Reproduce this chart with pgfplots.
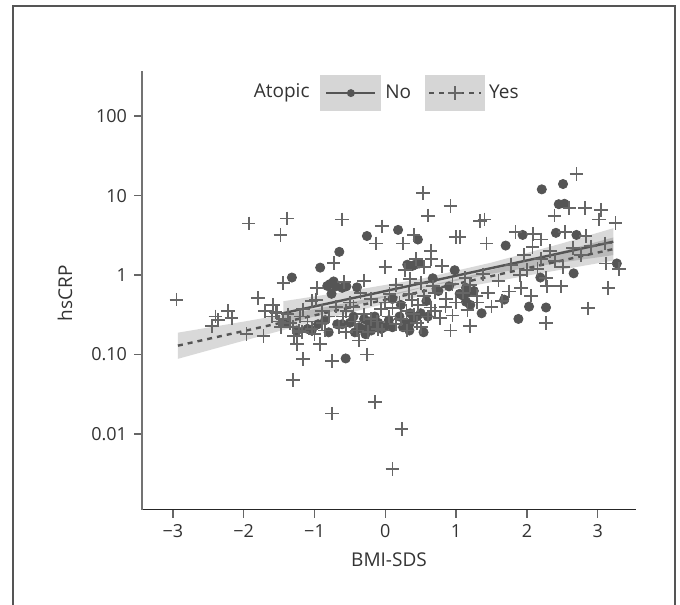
\documentclass[border=0pt]{standalone}
\usepackage{pgfplots}
\pgfplotsset{compat=1.18}
\usepackage{fontspec}
\setmainfont{Open Sans}
\definecolor{txt}{HTML}{333333}
\definecolor{framecol}{HTML}{555555}
\definecolor{dotcol}{HTML}{555555}
\definecolor{pluscol}{HTML}{666666}
\definecolor{linecol}{HTML}{555555}
\definecolor{legbg}{HTML}{D6D6D6}

\pgfplotstableread{
x y
-1.41 0.25
-1.32 0.93
-1.25 0.20
-1.10 0.21
-1.04 0.20
-0.95 0.24
-0.92 1.24
-0.85 0.27
-0.82 0.73
-0.80 0.19
-0.78 0.77
-0.76 0.58
-0.73 0.83
-0.70 0.72
-0.68 0.24
-0.65 1.96
-0.61 0.69
-0.61 0.24
-0.56 0.089
-0.55 0.72
-0.50 0.25
-0.45 0.30
-0.43 0.19
-0.40 0.70
-0.37 0.22
-0.33 0.21
-0.30 0.28
-0.28 0.18
-0.26 3.1
-0.24 0.26
-0.22 0.23
-0.20 0.20
-0.18 0.24
-0.15 0.30
-0.12 0.22
-0.10 0.25
-0.06 0.21
-0.02 0.22
0.05 0.27
0.10 0.22
0.10 0.50
0.18 3.7
0.20 0.30
0.22 0.42
0.25 0.22
0.28 0.25
0.31 1.35
0.34 0.24
0.34 0.20
0.35 0.33
0.38 1.30
0.40 0.28
0.42 1.35
0.45 0.30
0.46 2.8
0.48 1.40
0.50 0.33
0.54 0.19
0.58 0.47
0.60 0.30
0.67 0.91
0.75 0.63
0.90 0.72
0.98 1.15
1.05 0.58
1.10 0.55
1.14 0.46
1.14 0.69
1.15 0.59
1.20 0.42
1.25 0.63
1.36 0.33
1.68 0.49
1.70 2.35
1.88 0.28
1.94 3.2
2.03 0.40
2.19 0.93
2.21 12
2.27 0.39
2.41 3.4
2.45 7.8
2.51 14
2.53 7.9
2.66 1.05
2.70 3.2
3.27 1.4
}\nodata

\pgfplotstableread{
x y
-2.95 0.49
-2.45 0.23
-2.40 0.30
-2.36 0.27
-2.22 0.35
-2.17 0.29
-1.96 0.18
-1.93 4.46
-1.80 0.51
-1.72 0.17
-1.70 0.35
-1.60 0.30
-1.59 0.42
-1.55 0.34
-1.53 0.33
-1.50 0.26
-1.48 3.22
-1.47 0.22
-1.45 0.28
-1.44 0.79
-1.39 5.15
-1.38 0.32
-1.35 0.25
-1.30 0.048
-1.30 0.22
-1.29 0.17
-1.25 0.135
-1.22 0.20
-1.20 0.30
-1.18 0.19
-1.16 0.087
-1.16 0.37
-1.10 0.26
-1.04 0.21
-1.04 0.47
-1.00 0.18
-0.98 0.49
-0.97 0.69
-0.92 0.135
-0.90 0.35
-0.89 0.25
-0.85 0.20
-0.80 0.30
-0.75 0.083
-0.75 0.018
-0.73 1.42
-0.70 0.40
-0.65 0.22
-0.61 5.0
-0.60 0.30
-0.58 0.81
-0.55 0.19
-0.55 0.35
-0.50 0.45
-0.45 0.40
-0.43 0.26
-0.40 0.20
-0.37 0.15
-0.35 0.60
-0.30 0.32
-0.30 0.85
-0.26 0.10
-0.24 0.19
-0.20 0.50
-0.20 0.28
-0.15 0.025
-0.13 2.5
-0.12 0.26
-0.10 0.21
-0.06 0.37
-0.05 4.1
-0.05 0.20
0.00 1.27
0.00 0.45
0.05 0.30
0.06 0.58
0.10 0.0036
0.10 0.38
0.15 0.24
0.15 0.75
0.20 0.45
0.22 0.28
0.23 0.0115
0.25 2.5
0.28 1.15
0.30 0.35
0.31 0.20
0.34 0.58
0.35 0.90
0.38 0.48
0.40 3.2
0.40 0.32
0.43 1.6
0.45 0.25
0.46 0.42
0.50 0.80
0.50 0.22
0.53 10.7
0.55 1.26
0.55 0.55
0.60 5.6
0.60 0.30
0.64 2.0
0.64 0.39
0.65 1.6
0.67 0.72
0.70 0.60
0.70 0.35
0.77 0.29
0.80 1.30
0.85 0.40
0.86 0.50
0.92 7.4
0.92 0.20
0.95 0.31
0.95 0.77
1.00 3.0
1.00 0.45
1.05 3.0
1.10 0.60
1.13 0.91
1.16 0.36
1.20 0.23
1.20 0.75
1.29 0.55
1.30 0.45
1.34 4.8
1.38 1.02
1.40 5.0
1.43 2.5
1.45 0.60
1.50 0.40
1.60 0.85
1.65 0.47
1.75 0.62
1.78 1.35
1.84 3.5
1.90 1.00
1.92 0.69
1.96 1.78
2.00 1.15
2.06 0.55
2.08 2.24
2.09 3.3
2.15 1.20
2.20 1.60
2.20 2.80
2.27 0.91
2.27 0.25
2.28 0.72
2.33 2.0
2.39 5.6
2.40 1.50
2.48 0.72
2.51 1.27
2.54 3.5
2.60 7.0
2.65 2.20
2.70 18.6
2.76 1.78
2.82 7.0
2.83 3.1
2.86 0.38
2.90 2.30
3.02 5.0
3.05 6.6
3.10 2.50
3.12 1.4
3.15 0.69
3.25 4.5
3.30 1.2
}\yesdata

\begin{document}
\begin{tikzpicture}
\useasboundingbox (0pt,0pt) rectangle (340pt,302.5pt);
\draw[framecol, line width=1pt] (6.5pt,0pt) -- (6.5pt,299.5pt) -- (337.5pt,299.5pt) -- (337.5pt,0pt);
\begin{axis}[
  at={(71pt,47.75pt)}, anchor=south west,
  scale only axis, width=247pt, height=219pt,
  xmin=-3.437, xmax=3.541,
  ymode=log, ymin=0.001114, ymax=366,
  axis x line*=bottom, axis y line*=left,
  x axis line style={draw=black!85, line width=0.75pt},
  y axis line style={draw=black!55, line width=0.75pt},
  tick align=outside, major tick length=4pt,
  tick style={draw=black!60, line width=0.75pt},
  yminorticks=false, xminorticks=false,
  xtick={-3,-2,-1,0,1,2,3},
  xticklabels={−3,−2,−1,0,1,2,3},
  ytick={0.01,0.1,1,10,100},
  yticklabels={0.01,0.10,1,10,100},
  ticklabel style={font=\fontsize{9}{11}\selectfont, text=txt},
  xlabel={BMI-SDS}, ylabel={hsCRP},
  label style={font=\fontsize{9.5}{11}\selectfont, text=txt},
  xlabel style={at={(rel axis cs:0.5,0)}, anchor=center, yshift=-25pt},
  ylabel style={at={(rel axis cs:0,0.494)}, anchor=center, yshift=38.5pt},
  legend style={at={(rel axis cs:0.3603,0.9507)}, anchor=west, draw=none, fill=none,
    inner sep=0pt, legend columns=2,
    font=\fontsize{9.5}{11}\selectfont, text=txt,
    /tikz/every even column/.append style={column sep=5pt}},
  clip=false,
]
\addplot[forget plot, only marks, mark=*, mark size=2.3pt, draw=dotcol, fill=dotcol] table[x=x,y=y] {\nodata};
\addplot[forget plot, only marks, mark=+, mark size=3.4pt, draw=pluscol, line width=0.9pt] table[x=x,y=y] {\yesdata};
% Yes ribbon
\addplot[forget plot, fill=black, fill opacity=0.15, draw=none] coordinates {
 (-2.93,0.188) (-2,0.259) (-1,0.372) (0,0.552) (1,0.887) (2,1.514) (3.22,2.97)
 (3.22,1.52) (2,0.982) (1,0.673) (0,0.435) (-1,0.259) (-2,0.149) (-2.93,0.088)
} -- cycle;
% No ribbon
\addplot[forget plot, fill=black, fill opacity=0.15, draw=none] coordinates {
 (-1.44,0.468) (-0.5,0.63) (0.5,0.895) (1.5,1.435) (2.5,2.51) (3.22,3.89)
 (3.22,1.78) (2.5,1.445) (1.5,1.04) (0.5,0.686) (-0.5,0.401) (-1.44,0.234)
} -- cycle;
\addplot[linecol, line width=1.2pt, solid,
  legend image code/.code={
    \path[fill=legbg, draw=none] (0pt,-9pt) rectangle (30.5pt,9pt);
    \draw[solid, linecol, line width=1.2pt] (3pt,0pt) -- (27.5pt,0pt);
    \path[fill=linecol, draw=none] (15.25pt,0pt) circle (2pt);
  }] coordinates {(-1.44,0.331) (3.22,2.63)};
\addlegendentry{No}
\addplot[linecol, line width=1.2pt, dash pattern=on 2.5pt off 2.5pt,
  legend image code/.code={
    \path[fill=legbg, draw=none] (0pt,-9pt) rectangle (30pt,9pt);
    \draw[linecol, line width=1.2pt, dash pattern=on 2.5pt off 2.5pt] (2pt,0pt) -- (28pt,0pt);
    \draw[solid, pluscol, line width=0.9pt] (15pt,-3.4pt) -- (15pt,3.4pt) (11.6pt,0pt) -- (18.4pt,0pt);
  }] coordinates {(-2.93,0.129) (3.22,2.12)};
\addlegendentry{Yes}
\node[anchor=east, font=\fontsize{9.5}{11}\selectfont, text=txt, inner sep=0pt] at (rel axis cs:0.340,0.9507) {Atopic};
\end{axis}
\end{tikzpicture}
\end{document}
